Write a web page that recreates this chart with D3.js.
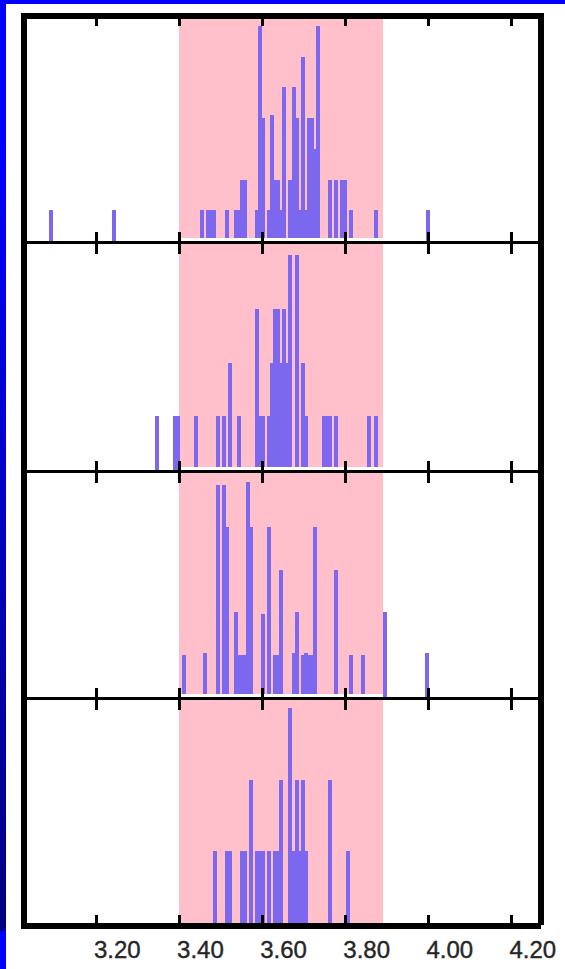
<!DOCTYPE html>
<html>
<head>
<meta charset="utf-8">
<script src="https://cdn.jsdelivr.net/npm/d3@7"></script>
<style>
  html, body { margin: 0; padding: 0; background: #fff; }
  svg { display: block; }
</style>
</head>
<body>
<svg id="chart" width="565" height="969"></svg>
<script>
// ---------- data ----------
const tickValues = [3.2, 3.4, 3.6, 3.8, 4.0, 4.2];
const tickLabels = ["3.20", "3.40", "3.60", "3.80", "4.00", "4.20"];
const bandRange = [3.401, 3.892];

const panel1Values = [3.092, 3.243, 3.455, 3.470, 3.477, 3.484, 3.515, 3.537, 3.544, 3.551, 3.559,
  3.588, 3.595, 3.602, 3.616, 3.624, 3.631, 3.638, 3.645, 3.653, 3.667, 3.676, 3.683, 3.690,
  3.698, 3.705, 3.713, 3.720, 3.727, 3.734, 3.763, 3.778, 3.792, 3.799, 3.814, 3.874, 3.998];
const panel1Counts = [1, 1, 1, 1, 1, 1, 1, 1, 1, 2, 2,
  1, 7, 4, 1, 4.1, 2, 2, 1, 5, 2, 5, 4, 1,
  6, 1, 4, 4, 3, 7, 2, 2, 2, 2, 1, 1, 1];

const panel2Values = [3.347, 3.390, 3.397, 3.441, 3.494, 3.508, 3.523, 3.544, 3.588, 3.595, 3.602,
  3.616, 3.624, 3.631, 3.638, 3.645, 3.653, 3.660, 3.668, 3.684, 3.698, 3.705, 3.749, 3.756,
  3.763, 3.778, 3.857, 3.874];
const panel2Counts = [1, 1, 1, 1, 1, 1, 2, 1, 3, 1, 1,
  1, 2, 3, 3, 2, 3, 2, 4, 4, 2, 1, 1, 1,
  1, 1, 1, 1];

const panel3Values = [3.412, 3.462, 3.494, 3.508, 3.515, 3.537, 3.544, 3.551, 3.559, 3.566, 3.573,
  3.602, 3.616, 3.631, 3.638, 3.645, 3.677, 3.684, 3.698, 3.705, 3.713, 3.720, 3.727, 3.778,
  3.814, 3.843, 3.896, 3.997];
const panel3Counts = [1, 1.04, 5, 5, 4, 2, 1, 1, 1, 5.06, 4,
  1.95, 4, 1, 1, 3, 1.04, 2, 1, 1.04, 1, 1, 4, 3,
  1, 1, 2, 1.04];

const panel4Values = [3.486, 3.515, 3.523, 3.551, 3.559, 3.573, 3.588, 3.595, 3.602, 3.616, 3.631,
  3.638, 3.645, 3.668, 3.677, 3.684, 3.691, 3.698, 3.705, 3.763, 3.807];
const panel4Counts = [1, 1, 1, 1, 1, 2, 1, 1, 1, 1, 1,
  1, 2, 3, 1, 2, 1, 2, 1, 2, 1];

const panels = [
  { values: panel1Values, counts: panel1Counts },
  { values: panel2Values, counts: panel2Counts },
  { values: panel3Values, counts: panel3Counts },
  { values: panel4Values, counts: panel4Counts }
];

// ---------- layout ----------
const svg = d3.select("#chart");
const W = 565, H = 969;
const frame = { left: 21, right: 544, top: 13, bottom: 929, t: 6 };
const innerTop = frame.top + frame.t;          // 19
const baselines = [241, 470, 697, 923];         // top edge of each axis line
const barMaxPx = 215;
const barW = 3;

const x = d3.scaleLinear().domain([3.2, 4.2]).range([95.5, 511]);

// ---------- decorative blue edges ----------
const defs = svg.append("defs");
const grad = defs.append("linearGradient")
  .attr("id", "edgeGrad").attr("x1", 0).attr("y1", 0).attr("x2", 0).attr("y2", 1);
[[0, "#0000ff"], [0.14, "#0000ff"], [0.955, "#000080"], [0.9605, "#000080"], [0.961, "#0000ff"], [1, "#0000ff"]]
  .forEach(([o, c]) => grad.append("stop").attr("offset", o).attr("stop-color", c));
svg.append("rect").attr("x", 0).attr("y", 0).attr("width", 6).attr("height", H).attr("fill", "url(#edgeGrad)");
svg.append("rect").attr("x", 0).attr("y", 0).attr("width", W).attr("height", 4).attr("fill", "#0000ff");

// ---------- pink band ----------
svg.append("rect")
  .attr("x", x(bandRange[0])).attr("y", innerTop)
  .attr("width", x(bandRange[1]) - x(bandRange[0]))
  .attr("height", baselines[3] - innerTop)
  .attr("fill", "#ffc0cb")
  .attr("shape-rendering", "crispEdges");

// ---------- bars ----------
panels.forEach((p, i) => {
  const base = baselines[i];
  const maxC = d3.max(p.counts);
  const y = d3.scaleLinear().domain([0, maxC]).range([base, base - barMaxPx]);
  const data = p.values.map((v, k) => ({ v, c: p.counts[k] }));
  svg.append("g").attr("shape-rendering", "crispEdges")
    .selectAll("rect").data(data).join("rect")
    .attr("x", d => Math.round(x(d.v) - barW / 2))
    .attr("y", d => Math.round(y(d.c)))
    .attr("width", barW + 0.6)
    .attr("height", d => base - Math.round(y(d.c)))
    .attr("fill", "#7b68ee");
  // thin white strip above the separator inside the band
  if (i < 3) {
    svg.append("rect")
      .attr("x", x(bandRange[0])).attr("y", base - 3)
      .attr("width", x(bandRange[1]) - x(bandRange[0])).attr("height", 3)
      .attr("fill", "#fff")
      .attr("shape-rendering", "crispEdges");
  }
});

// ---------- frame & separators ----------
const black = "#000";
const fg = svg.append("g").attr("shape-rendering", "crispEdges");
fg.append("rect").attr("x", frame.left).attr("y", frame.top).attr("width", frame.right - frame.left).attr("height", frame.t).attr("fill", black);
fg.append("rect").attr("x", frame.left).attr("y", frame.top).attr("width", frame.t).attr("height", frame.bottom - frame.top).attr("fill", black);
fg.append("rect").attr("x", frame.right - frame.t).attr("y", frame.top).attr("width", frame.t).attr("height", 912).attr("fill", black);
fg.append("rect").attr("x", frame.left).attr("y", baselines[3]).attr("width", 520).attr("height", 6).attr("fill", black);
baselines.slice(0, 3).forEach(b => {
  fg.append("rect").attr("x", frame.left + frame.t).attr("y", b)
    .attr("width", frame.right - frame.left - 2 * frame.t).attr("height", 3).attr("fill", black);
});

// ---------- ticks via d3 axes ----------
function styleTicks(g) {
  g.attr("shape-rendering", "crispEdges");
  g.select(".domain").remove();
  g.selectAll(".tick line").attr("stroke", black).attr("stroke-width", 3);
  g.selectAll(".tick text").remove();
}
// top frame ticks (pointing down)
svg.append("g").attr("transform", `translate(0,${innerTop})`)
  .call(d3.axisBottom(x).tickValues(tickValues).tickSize(7)).call(styleTicks);
// separator ticks (crossing lines)
baselines.slice(0, 3).forEach(b => {
  svg.append("g").attr("transform", `translate(0,${b})`)
    .call(d3.axisTop(x).tickValues(tickValues).tickSize(9)).call(styleTicks);
  svg.append("g").attr("transform", `translate(0,${b + 3})`)
    .call(d3.axisBottom(x).tickValues(tickValues).tickSize(10)).call(styleTicks);
});
// bottom ticks (pointing up)
svg.append("g").attr("transform", `translate(0,${baselines[3]})`)
  .call(d3.axisTop(x).tickValues(tickValues).tickSize(8)).call(styleTicks);

// ---------- tick labels ----------
const labelAxis = svg.append("g").attr("transform", `translate(0,${frame.bottom})`)
  .call(d3.axisBottom(x).tickValues(tickValues).tickSize(0)
    .tickFormat((d, i) => tickLabels[i]));
labelAxis.select(".domain").remove();
labelAxis.selectAll(".tick text")
  .attr("text-anchor", "start")
  .attr("x", -2)
  .attr("y", 29)
  .attr("dy", null)
  .attr("fill", "#262626")
  .attr("stroke", "#262626")
  .attr("stroke-width", 0.4)
  .style("font-family", "'Liberation Sans', Arial, sans-serif")
  .style("font-size", "24px");
</script>
</body>
</html>
